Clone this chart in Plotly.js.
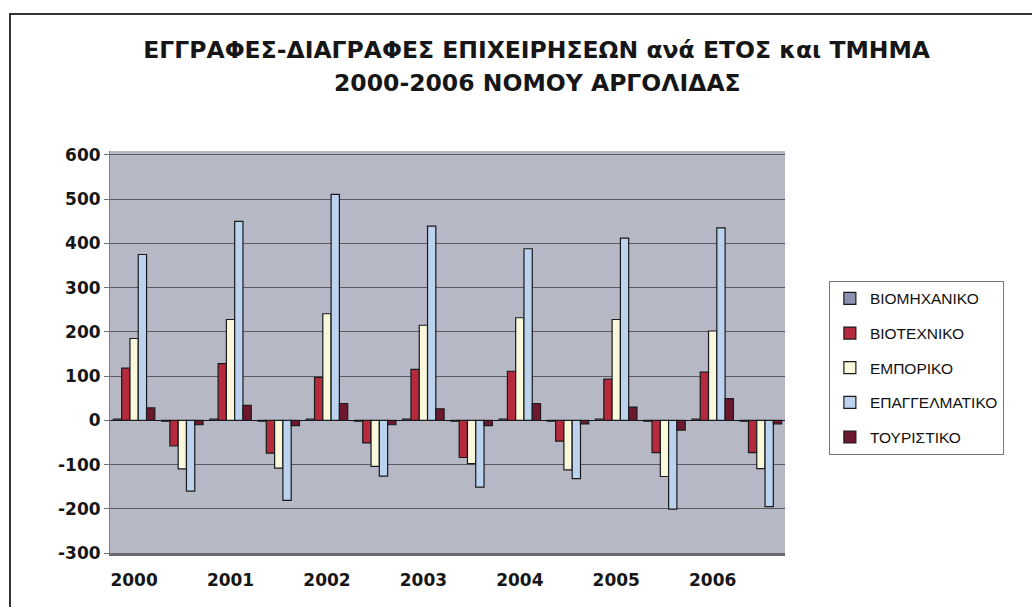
<!DOCTYPE html>
<html>
<head>
<meta charset="utf-8">
<script src="https://cdn.plot.ly/plotly-3.0.1.min.js"></script>
<style>
  html, body { margin: 0; padding: 0; background: #fff; }
  #frame { position: absolute; left: 9px; top: 13px; width: 1040px; height: 610px;
           border-left: 2px solid #333; border-top: 2px solid #333; box-sizing: border-box; pointer-events: none; z-index: 5; }
  #chart { width: 1032px; height: 607px; }
</style>
</head>
<body>
<div id="frame"></div>
<div id="chart"></div>
<script>
// Years (each year has a registrations slot and a deletions slot)
const years = ["2000", "2001", "2002", "2003", "2004", "2005", "2006"];
const seriesNames = ["ΒΙΟΜΗΧΑΝΙΚΟ", "ΒΙΟΤΕΧΝΙΚΟ", "ΕΜΠΟΡΙΚΟ", "ΕΠΑΓΓΕΛΜΑΤΙΚΟ", "ΤΟΥΡΙΣΤΙΚΟ"];
const yTickVals = [-300, -200, -100, 0, 100, 200, 300, 400, 500, 600];
const yTickText = ["-300", "-200", "-100", "0", "100", "200", "300", "400", "500", "600"];
const titleLine1 = "ΕΓΓΡΑΦΕΣ-ΔΙΑΓΡΑΦΕΣ ΕΠΙΧΕΙΡΗΣΕΩΝ ανά ΕΤΟΣ και ΤΜΗΜΑ";
const titleLine2 = "2000-2006 ΝΟΜΟΥ ΑΡΓΟΛΙΔΑΣ";

// Registrations (positive) per year
const regBiomixaniko   = [3, 3, 3, 3, 3, 3, 3];
const regBiotexniko    = [118, 128, 97, 115, 111, 93, 109];
const regEmporiko      = [185, 228, 241, 215, 232, 228, 202];
const regEpaggelmatiko = [375, 450, 511, 439, 388, 412, 435];
const regTouristiko    = [28, 34, 38, 26, 38, 30, 49];

// Deletions (negative) per year
const delBiomixaniko   = [-2, -2, -2, -2, -2, -2, -2];
const delBiotexniko    = [-58, -74, -51, -84, -47, -73, -73];
const delEmporiko      = [-110, -108, -104, -98, -112, -127, -109];
const delEpaggelmatiko = [-160, -181, -126, -151, -132, -201, -195];
const delTouristiko    = [-10, -12, -10, -12, -8, -22, -8];

const colors = ["#8e90b2", "#b52a3c", "#f9f7dc", "#bcd3f0", "#6e1830"];

const regs = [regBiomixaniko, regBiotexniko, regEmporiko, regEpaggelmatiko, regTouristiko];
const dels = [delBiomixaniko, delBiotexniko, delEmporiko, delEpaggelmatiko, delTouristiko];

const xs = [], tickvals = [];
years.forEach((y, i) => { xs.push(2 * i, 2 * i + 1); tickvals.push(2 * i); });

const traces = seriesNames.map((name, s) => {
  const yv = [];
  years.forEach((y, i) => { yv.push(regs[s][i], dels[s][i]); });
  return {
    type: "bar",
    name: name,
    x: xs,
    y: yv,
    legendgroup: "g" + s,
    marker: { color: colors[s], line: { color: "#1a1a1a", width: 1.2 } },
    hovertemplate: name + ": %{y}<extra></extra>"
  };
});

const tickFont = { size: 17, family: "DejaVu Sans, sans-serif", color: "#161616", weight: "bold" };
const titleFont = { size: 23.5, family: "DejaVu Sans, sans-serif", color: "#161616", weight: "bold" };

const layout = {
  width: 1032,
  height: 607,
  margin: { l: 110, r: 247, t: 151, b: 54 },
  paper_bgcolor: "#ffffff",
  plot_bgcolor: "#b6b8c6",
  barmode: "group",
  bargap: 0.14,
  bargroupgap: 0,
  font: { family: "Liberation Sans, Arial, sans-serif", color: "#111" },
  title: {
    text: "<b>" + titleLine1 + "</b>",
    font: titleFont,
    x: 0.52, xanchor: "center", xref: "container",
    y: 1 - 50 / 607, yanchor: "middle", yref: "container"
  },
  annotations: [{
    text: "<b>" + titleLine2 + "</b>",
    font: titleFont,
    xref: "paper", yref: "paper",
    x: (537 - 110) / 675, y: (553 - 83) / 402,
    xanchor: "center", yanchor: "middle",
    showarrow: false
  }],
  xaxis: {
    range: [-0.5, 13.5],
    tickmode: "array",
    tickvals: tickvals,
    ticktext: years,
    tickfont: tickFont,
    ticklabelstandoff: 10,
    showgrid: false,
    zeroline: false,
    showline: true,
    linecolor: "#6a6a70",
    linewidth: 3,
    ticks: "",
    ticklen: 0
  },
  yaxis: {
    range: [-300, 609],
    tickmode: "array",
    tickvals: yTickVals,
    ticktext: yTickText,
    tickfont: tickFont,
    showgrid: true,
    gridcolor: "#5a5a62",
    gridwidth: 1,
    zeroline: true,
    zerolinecolor: "#111",
    zerolinewidth: 1.5,
    showline: true,
    linecolor: "#808080",
    linewidth: 1,
    ticks: "outside",
    ticklen: 5,
    tickcolor: "#707070"
  },
  legend: {
    x: 1.065, xanchor: "left",
    y: 0.677, yanchor: "top",
    bgcolor: "#ffffff",
    bordercolor: "#777",
    borderwidth: 1,
    font: { size: 15.5, family: "Liberation Sans, Arial, sans-serif", color: "#111" },
    tracegroupgap: 11.5,
    traceorder: "grouped",
    itemwidth: 30
  },
  showlegend: true
};

Plotly.newPlot("chart", traces, layout, { displayModeBar: false, staticPlot: true });
</script>
</body>
</html>
